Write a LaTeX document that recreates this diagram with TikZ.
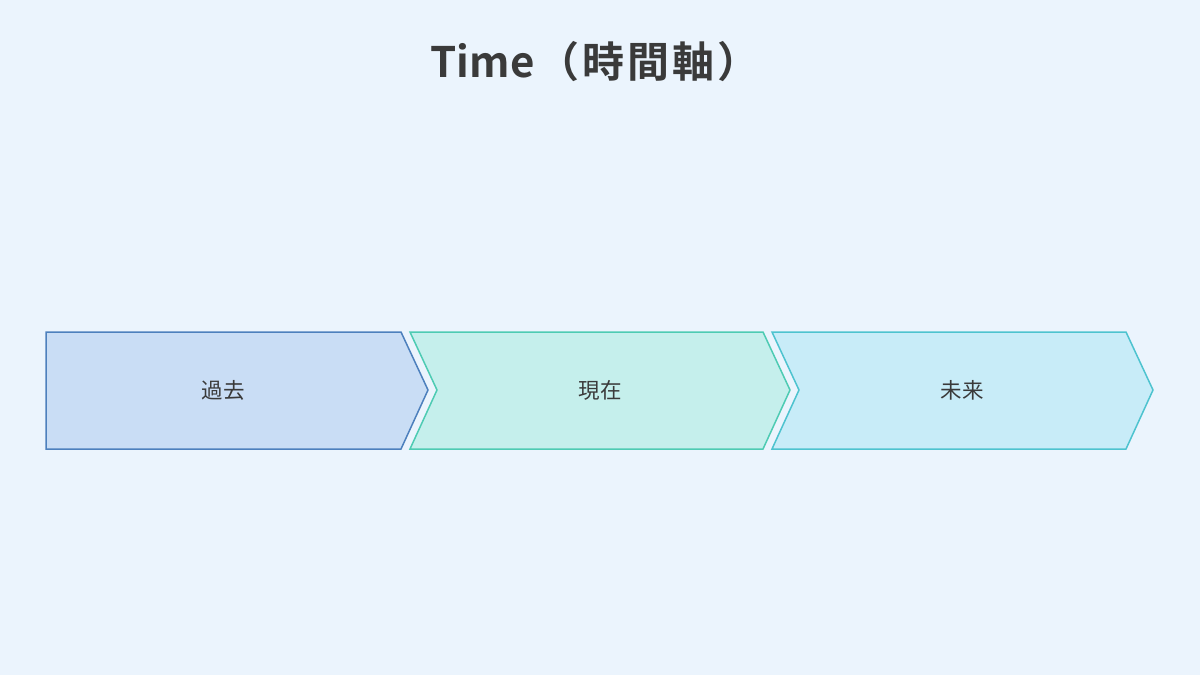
\documentclass[tikz,border=0pt]{standalone}
\usepackage{fontspec}
\newfontfamily\cjk{Noto Sans CJK JP}
\newfontfamily\cjkbold{Noto Sans CJK JP Bold}
\definecolor{bg}{HTML}{EBF4FD}
\definecolor{pastfill}{HTML}{C9DDF5}
\definecolor{pastline}{HTML}{4D80BD}
\definecolor{nowfill}{HTML}{C5EFEC}
\definecolor{nowline}{HTML}{4ECBB3}
\definecolor{futfill}{HTML}{C8ECF8}
\definecolor{futline}{HTML}{4EC3CF}
\definecolor{txt}{HTML}{3A3A3A}
\begin{document}
\begin{tikzpicture}[x=1pt,y=-1pt,
  chev/.style={line width=1.5pt,line join=miter},
  lbl/.style={font=\cjk\fontsize{21.5}{26}\selectfont,text=txt,inner sep=0pt}]
\fill[bg] (0,0) rectangle (1200,675);
\useasboundingbox (0,0) rectangle (1200,675);
\node[font=\cjkbold\fontsize{42}{50}\selectfont,text=txt,inner sep=0pt] (title) at (595,62) {Time\hspace{3pt}（\hspace{3pt}時\hspace{3pt}間\hspace{3pt}軸\hspace{3pt}）};
% past
\draw[chev,fill=pastfill,draw=pastline] (46,332) -- (401,332) -- (428,390) -- (401,449) -- (46,449) -- cycle;
\node[lbl] (past) at (223,390) {過去};
% now
\draw[chev,fill=nowfill,draw=nowline] (410,332) -- (763,332) -- (790,390) -- (763,449) -- (410,449) -- (437,390) -- cycle;
\node[lbl] (now) at (600,390) {現在};
% future
\draw[chev,fill=futfill,draw=futline] (772,332) -- (1126,332) -- (1153,390) -- (1126,449) -- (772,449) -- (799,390) -- cycle;
\node[lbl] (future) at (962,390) {未来};
\end{tikzpicture}
\end{document}
